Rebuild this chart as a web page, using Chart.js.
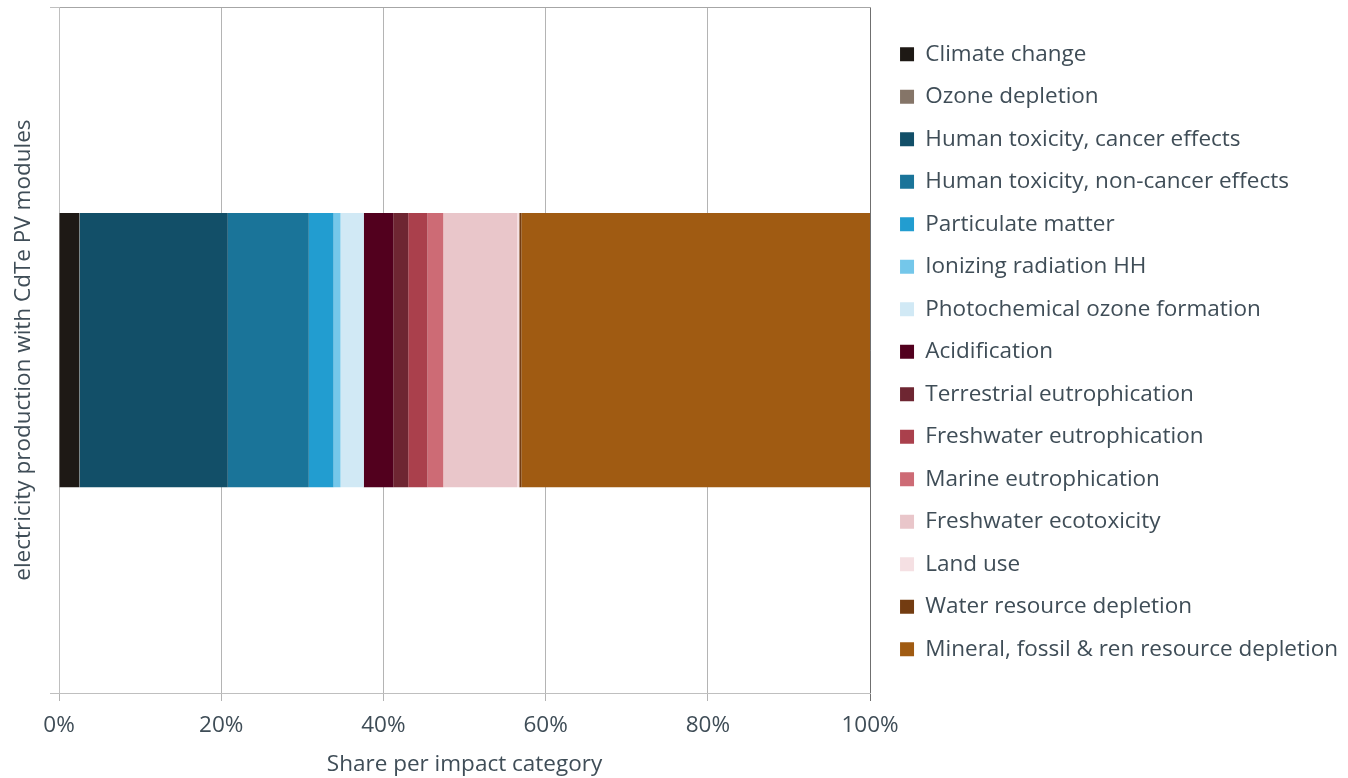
<!DOCTYPE html>
<html>
<head>
<meta charset="utf-8">
<script src="https://cdn.jsdelivr.net/npm/chart.js@4.4.1/dist/chart.umd.min.js"></script>
<style>
  html, body { margin: 0; padding: 0; background: #fff; }
  #wrap { position: relative; width: 1348px; height: 778px; }
</style>
</head>
<body>
<div id="wrap"><canvas id="chart"></canvas></div>
<script>
// data (share in %)
const categories = ["electricity production with CdTe PV modules"];
const impactNames = [
  "Climate change", "Ozone depletion", "Human toxicity, cancer effects",
  "Human toxicity, non-cancer effects", "Particulate matter", "Ionizing radiation HH",
  "Photochemical ozone formation", "Acidification", "Terrestrial eutrophication",
  "Freshwater eutrophication", "Marine eutrophication", "Freshwater ecotoxicity",
  "Land use", "Water resource depletion", "Mineral, fossil & ren resource depletion"
];
const shareValues = [2.47, 0.05, 18.29, 9.99, 3.05, 0.86, 2.87, 3.63, 1.85, 2.38, 1.94, 9.1, 0.27, 0.25, 43.0];
const impactColors = [
  "#1e1915", "#857568", "#124f68", "#1a7499", "#229dd0", "#74c7ea", "#d1e9f5",
  "#52001e", "#6e2632", "#aa404c", "#cd6b75", "#e9c6ca", "#f5e0e3", "#733c11", "#a05b12"
];
const xTicks = [0, 20, 40, 60, 80, 100];

const textColor = "#3f4d57";
const fontFamily = "'Open Sans', sans-serif";

const datasets = impactNames.map((name, i) => ({
  label: name,
  data: [shareValues[i]],
  backgroundColor: impactColors[i],
  borderWidth: 0,
  barPercentage: 0.4,
  categoryPercentage: 1
}));

new Chart(document.getElementById("chart"), {
  type: "bar",
  data: { labels: categories, datasets: datasets },
  options: {
    indexAxis: "y",
    responsive: true,
    maintainAspectRatio: false,
    animation: false,
    layout: { padding: { left: 0, top: 6, right: 0, bottom: 0 } },
    plugins: {
      tooltip: { enabled: false },
      legend: {
        position: "right",
        align: "start",
        maxWidth: 600,
        title: { display: true, text: " ", font: { size: 10 }, padding: 2.5 },
        labels: {
          boxWidth: 14,
          boxHeight: 14,
          padding: 20,
          color: textColor,
          font: { family: fontFamily, size: 22.5 }
        }
      }
    },
    scales: {
      x: {
        stacked: true,
        min: 0,
        max: 100,
        afterBuildTicks: axis => { axis.ticks = xTicks.map(v => ({ value: v })); },
        ticks: {
          color: textColor,
          font: { family: fontFamily, size: 22.5 },
          padding: 11,
          callback: v => v + "%"
        },
        grid: {
          color: ctx => (ctx.tick && ctx.tick.value === 100) ? "#6f6f6f" : "#b4b4b4",
          tickLength: 8
        },
        border: { color: "#bfbfbf" },
        title: {
          display: true,
          text: "Share per impact category",
          color: textColor,
          font: { family: fontFamily, size: 22.5 },
          padding: { top: 1, bottom: 0 }
        }
      },
      x2: {
        type: "linear",
        position: "top",
        ticks: { display: false },
        grid: { display: false },
        border: { color: "#a6a6a6" },
        afterFit: s => { s.height = 0; }
      },
      y: {
        stacked: true,
        ticks: { callback: () => "", padding: 0 },
        grid: { offset: true, drawOnChartArea: false, tickLength: 9, color: "#bfbfbf" },
        border: { color: "#bfbfbf" },
        title: {
          display: true,
          text: categories[0],
          color: textColor,
          font: { family: fontFamily, size: 22.5 },
          padding: { top: 10, bottom: 13 }
        }
      },
      gap: {
        type: "linear",
        axis: "y",
        position: "right",
        ticks: { display: false },
        grid: { display: false },
        border: { display: false },
        afterFit: s => { s.width = 10; }
      }
    }
  }
});
</script>
</body>
</html>
